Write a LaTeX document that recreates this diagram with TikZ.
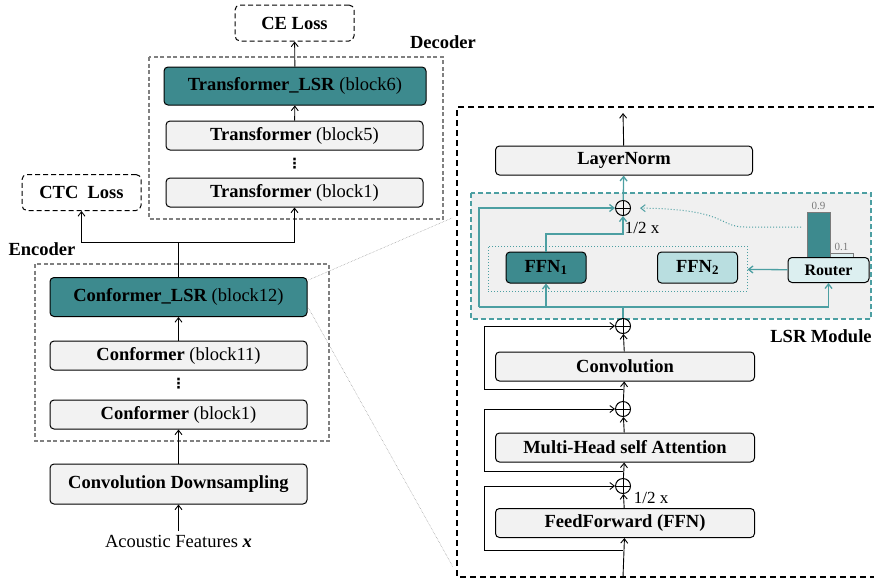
\documentclass[tikz,border=0pt]{standalone}
\usepackage{fontspec}
\setmainfont{Liberation Serif}
\newfontfamily\symbolfont{DejaVu Sans}
\usetikzlibrary{arrows.meta}

\definecolor{lsrTeal}{HTML}{3D8A8E}
\definecolor{lsrLine}{HTML}{4C9FA2}
\definecolor{lsrLight}{HTML}{B9DEE0}
\definecolor{lsrPale}{HTML}{DCEFF0}
\definecolor{blockGray}{HTML}{F2F2F2}
\definecolor{moduleGray}{HTML}{F0F0F0}
\definecolor{frameGray}{HTML}{808080}
\definecolor{barGray}{HTML}{7A7A7A}

\tikzset{
  block/.style={draw, line width=1pt, rounded corners=4pt, fill=blockGray,
    minimum width=257pt, minimum height=29pt, inner sep=0pt},
  lsrblock/.style={block, fill=lsrTeal, minimum height=39pt},
  lossbox/.style={draw, line width=1pt, dash pattern=on 5pt off 3pt, rounded corners=5pt,
    minimum width=119pt, minimum height=36pt, font=\fontsize{18.5}{20}\selectfont\bfseries},
  group/.style={draw=frameGray, line width=1.2pt, dash pattern=on 4pt off 2.5pt},
  expert/.style={draw, line width=1pt, rounded corners=4pt, minimum width=80pt,
    minimum height=31pt, inner sep=0pt, font=\fontsize{18.5}{20}\selectfont\bfseries},
  sumop/.style={circle, draw, line width=1pt, minimum size=15pt, inner sep=0pt,
    path picture={\draw[line width=1pt] (path picture bounding box.north) -- (path picture bounding box.south)
      (path picture bounding box.west) -- (path picture bounding box.east);}},
  flow/.style={draw=lsrLine, line width=1.3pt},
  bar/.style={draw=barGray, line width=1pt, minimum width=23pt, inner sep=0pt},
  score/.style={text=barGray, font=\fontsize{11}{12}\selectfont, inner sep=1pt},
  gap/.style={inner sep=0pt, font=\fontsize{14}{14}\selectfont\symbolfont\bfseries},
  zoomline/.style={draw=black!45, line width=0.5pt, densely dotted},
}

\begin{document}
\begin{tikzpicture}[x=1pt,y=-1pt,font=\fontsize{18.5}{20}\selectfont,
  >={Straight Barb[length=4.5pt,width=7pt]}, line width=0.9pt]
  \useasboundingbox (0,0) rectangle (874,579);

  % encoder
  \draw[group] (35,264) rectangle (329,441);
  \node[font=\fontsize{18.5}{20}\selectfont\bfseries] (enclabel) at (42,249) {Encoder};
  \node[lsrblock] (clsr) at (178.5,297) {\textbf{Conformer\_LSR} (block12)};
  \node[block] (c11) at (178.5,355.5) {\textbf{Conformer} (block11)};
  \node[gap] (cdots) at (178.5,384) {⋮};
  \node[block] (c1) at (178.5,414.5) {\textbf{Conformer} (block1)};
  \node[block, minimum height=40pt] (down) at (178.5,484) {\textbf{Convolution Downsampling}};
  \node (feat) at (178.5,541) {Acoustic Features \textbf{\textit{x}}};
  \draw[->] (feat) -- (down);
  \draw[->] (down) -- (c1);
  \draw[->] (c11) -- (clsr);

  % decoder
  \draw[group] (149,57) rectangle (443,219);
  \node[font=\fontsize{18.5}{20}\selectfont\bfseries] (declabel) at (443,42) {Decoder};
  \node[lsrblock, minimum width=262pt, minimum height=38pt] (tlsr) at (295,86) {\textbf{Transformer\_LSR} (block6)};
  \node[block] (t5) at (294.5,135.5) {\textbf{Transformer} (block5)};
  \node[gap] (tdots) at (294.5,164) {⋮};
  \node[block] (t1) at (294.5,192.5) {\textbf{Transformer} (block1)};
  \draw[->] (t5) -- (tlsr);

  % losses
  \node[lossbox] (ce) at (294.5,23) {CE Loss};
  \node[lossbox] (ctc) at (81.5,192.5) {CTC\ \ Loss};
  \draw[->] (tlsr) -- (ce);
  \coordinate (fork) at (178.5,242);
  \draw (clsr) -- (fork);
  \draw[->] (fork) -| (ctc);
  \draw[->] (fork) -| (t1);

  % zoom lines
  \coordinate (zoomtop) at (452,218);
  \coordinate (zoombot) at (453,567);
  \draw[zoomline] ([shift={(1,3)}]clsr.north east) -- (zoomtop);
  \draw[zoomline] ([shift={(1,-9)}]clsr.south east) -- (zoombot);

  % conformer_LSR detail
  \draw[line width=1.5pt, dash pattern=on 6pt off 4pt] (874,107) -- (457,107) -- (457,577) -- (874,577);
  \draw[draw=lsrLine, fill=moduleGray, line width=1.2pt, dash pattern=on 5pt off 3pt] (471,193) rectangle (871,319);
  \node[font=\fontsize{18.5}{20}\selectfont\bfseries] (lsrlabel) at (821,336) {LSR Module};

  \node[block, minimum width=257pt] (norm) at (624,160.5) {\textbf{LayerNorm}};
  \node[sumop] (sum4) at (623,208) {};
  \node[draw=lsrLine, line width=1pt, dotted, minimum width=259pt, minimum height=45pt] (experts) at (617.5,268.5) {};
  \node[expert, fill=lsrTeal] (ffnA) at (546,267.5) {FFN\textsubscript{1}};
  \node[expert, fill=lsrLight] (ffnB) at (697.5,267.5) {FFN\textsubscript{2}};
  \node[bar, fill=lsrTeal, minimum height=46pt, label={[score]above:0.9}] (p1) at (818.5,235) {};
  \node[bar, fill=lsrPale, minimum height=5pt, label={[score]above:0.1}] (p2) at (841.5,255.5) {};
  \node[expert, fill=lsrPale, minimum width=81pt, minimum height=25pt,
    font=\fontsize{16}{18}\selectfont\bfseries] (router) at (828.5,270) {Router};

  \node[block, minimum width=259pt] (conv) at (625,366.5) {\textbf{Convolution}};
  \node[block, minimum width=259pt] (mhsa) at (625,447.5) {\textbf{Multi-Head self Attention}};
  \node[block, minimum width=259pt] (ffn) at (625,523) {\textbf{FeedForward (FFN)}};
  \node[sumop] (sum3) at (623,326) {};
  \node[sumop] (sum2) at (623,409) {};
  \node[sumop] (sum1) at (623,486) {};

  % lsr routing
  \coordinate (split) at (623,307);
  \coordinate (skip) at (479,307);
  \coordinate (half) at (623,234);
  \coordinate (gate) at (801,227);
  \coordinate (out) at (623,113);
  \draw[flow] (sum3) -- (split);
  \draw[flow] (skip) -- (router.south |- split);
  \draw[flow,->] (split -| ffnA) -- (ffnA);
  \draw[flow,->] (router.south |- split) -- (router);
  \draw[flow,->] (skip) |- (sum4);
  \draw[flow,->] (ffnA) |- (half) -- (sum4);
  \draw[flow,->] (router) -- (experts);
  \draw[flow,->] (sum4) -- (norm);
  \draw[draw=lsrLine, line width=1pt, dotted, ->, shorten >=9pt] (gate) -- (745,227)
    .. controls (718,227) and (728,209) .. (sum4.east);
  \node[font=\fontsize{17}{18}\selectfont] (halfA) at (642,228) {1/2 x};
  \draw[->] (norm) -- (out);

  % residual stack
  \coordinate (in) at (623,577);
  \coordinate (r1) at (623,550);
  \coordinate (r2) at (623,471);
  \coordinate (r3) at (623,389);
  \draw[->] (in) -- (ffn);
  \draw[->] (ffn) -- (sum1);
  \draw[->] (sum1) -- (mhsa);
  \draw[->] (mhsa) -- (sum2);
  \draw[->] (sum2) -- (conv);
  \draw[->] (conv) -- (sum3);
  \draw[->] (r1) -- (484,550) |- (sum1);
  \draw[->] (r2) -- (484,471) |- (sum2);
  \draw[->] (r3) -- (484,389) |- (sum3);
  \node[font=\fontsize{17}{18}\selectfont] (halfB) at (651,498) {1/2 x};
\end{tikzpicture}
\end{document}
